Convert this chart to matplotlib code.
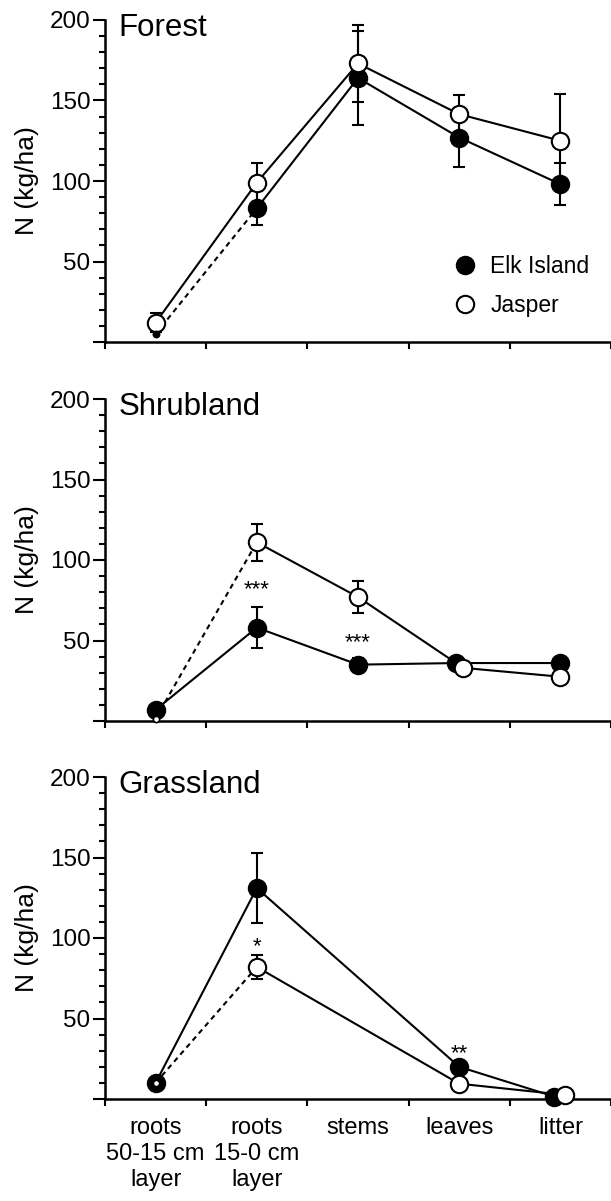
import matplotlib
matplotlib.use('Agg')
import matplotlib.pyplot as plt
import numpy as np
from matplotlib.ticker import MultipleLocator, FixedLocator, FuncFormatter, NullFormatter
from matplotlib.lines import Line2D

plt.rcParams['font.family'] = ['Liberation Sans', 'DejaVu Sans']

# ---------------- data ----------------
categories = ['roots\n50-15 cm\nlayer', 'roots\n15-0 cm\nlayer', 'stems', 'leaves', 'litter']
panel_names = ['Forest', 'Shrubland', 'Grassland']
series_names = ['Elk Island', 'Jasper']

forest_elk = [5, 83, 164, 127, 98]
forest_elk_err = [0, 10.5, 29, 18, 13]
forest_jasper = [12, 99, 173, 141.5, 125]
forest_jasper_err = [6, 12, 24, 12, 29]

shrub_elk = [7, 58, 35, 36, 36]
shrub_elk_err = [0, 12.5, 4, 0, 0]
shrub_jasper = [1.5, 111, 77, 33, 27.5]
shrub_jasper_err = [0, 11.5, 10, 0, 0]

grass_elk = [10, 131, np.nan, 20, 1.5]
grass_elk_err = [0, 21.5, np.nan, 0, 0]
grass_jasper = [10, 82, np.nan, 9.5, 2.5]
grass_jasper_err = [0, 7.5, np.nan, 0, 0]

# which series has its deep-root segment dashed in each panel
dashed_series = ['Elk Island', 'Jasper', 'Jasper']

# significance marks: (category index, y baseline, text)
stars = [
    [],
    [(1, 78, '***'), (2, 45.5, '***')],
    [(1, 91, '*'), (3, 25, '**')],
]

panel_values = [
    {'Elk Island': (forest_elk, forest_elk_err), 'Jasper': (forest_jasper, forest_jasper_err)},
    {'Elk Island': (shrub_elk, shrub_elk_err), 'Jasper': (shrub_jasper, shrub_jasper_err)},
    {'Elk Island': (grass_elk, grass_elk_err), 'Jasper': (grass_jasper, grass_jasper_err)},
]

# small horizontal nudges of overlapping symbols (panel, series, category) -> offset
nudges = {
    (1, 'Elk Island', 3): -0.03, (1, 'Jasper', 3): 0.04,
    (2, 'Elk Island', 4): -0.06, (2, 'Jasper', 4): 0.05,
}

# ---------------- figure ----------------
W, H = 611, 1201
fig = plt.figure(figsize=(W / 100, H / 100), dpi=100)

left_px, right_px = 105, 611
bottoms_px = [342, 721, 1099]
height_px = 322

LW = 1.5
styles = {
    'Elk Island': dict(mfc='black', mec='black', z=3),
    'Jasper': dict(mfc='white', mec='black', z=4),
}
MS = 12.5
x = np.arange(len(categories))

for i, (name, vals) in enumerate(zip(panel_names, panel_values)):
    b = bottoms_px[i]
    ax = fig.add_axes([left_px / W, (H - b) / H, (right_px - left_px) / W, height_px / H])
    ax.set_xlim(-0.5, len(categories) - 0.5)
    ax.set_ylim(0, 200)

    for s in series_names:
        y, e = vals[s]
        y = np.asarray(y, float)
        e = np.asarray(e, float)
        xs = x.astype(float) + np.array([nudges.get((i, s, k), 0.0) for k in range(len(x))])
        st = styles[s]
        valid = ~np.isnan(y)
        xv, yv, ev = xs[valid], y[valid], e[valid]
        dashed = (dashed_series[i] == s)
        # lines
        if dashed:
            ax.plot(xv[:2], yv[:2], color='black', lw=LW, ls=(0, (2.5, 2)), zorder=2)
            ax.plot(xv[1:], yv[1:], color='black', lw=LW, zorder=2)
        else:
            ax.plot(xv, yv, color='black', lw=LW, zorder=2)
        # error bars
        m = ev > 0
        ax.errorbar(xv[m], yv[m], yerr=ev[m], fmt='none', ecolor='black',
                    elinewidth=LW, capsize=4.5, capthick=LW, zorder=2)
        # markers
        if dashed:
            ax.plot(xv[1:], yv[1:], ls='none', marker='o', ms=MS, mfc=st['mfc'],
                    mec=st['mec'], mew=LW, zorder=st['z'], clip_on=False)
            ax.plot(xv[:1], yv[:1], ls='none', marker='o', ms=4.5, mfc=st['mfc'],
                    mec=st['mec'], mew=1.2, zorder=6, clip_on=False)
        else:
            ax.plot(xv, yv, ls='none', marker='o', ms=MS, mfc=st['mfc'],
                    mec=st['mec'], mew=LW, zorder=st['z'], clip_on=False)

    for (ci, yy, txt) in stars[i]:
        ax.text(x[ci], yy, txt, ha='center', va='baseline', fontsize=16)

    # spines
    for sp in ['top', 'right']:
        ax.spines[sp].set_visible(False)
    for sp in ['left', 'bottom']:
        ax.spines[sp].set_linewidth(1.8)

    # y ticks
    ax.yaxis.set_major_locator(MultipleLocator(50))
    ax.yaxis.set_minor_locator(MultipleLocator(10))
    ax.yaxis.set_major_formatter(FuncFormatter(lambda v, p: '' if v == 0 else f'{v:.0f}'))
    ax.tick_params(axis='y', which='major', direction='out', length=8.5, width=1.5,
                   labelsize=17.5, pad=2)
    ax.tick_params(axis='y', which='minor', direction='out', length=4, width=1.5)

    # x ticks: boundaries as major, category labels as minor
    ax.xaxis.set_major_locator(FixedLocator(np.arange(-0.5, len(categories), 1.0)))
    ax.xaxis.set_major_formatter(NullFormatter())
    ax.xaxis.set_minor_locator(FixedLocator(x))
    ax.tick_params(axis='x', which='major', direction='out', length=5, width=1.5)
    if i == 2:
        ax.set_xticklabels(categories, minor=True)
        ax.tick_params(axis='x', which='minor', length=0, labelsize=17, pad=13)
        for t in ax.get_xticklabels(minor=True):
            t.set_linespacing(1.22)
    else:
        ax.xaxis.set_minor_formatter(NullFormatter())
        ax.tick_params(axis='x', which='minor', length=0)

    ax.text(0.026, 0.95, name, transform=ax.transAxes, fontsize=22.5,
            ha='left', va='baseline')

    fig.text(27 / W, (H - b + height_px / 2) / H, 'N (kg/ha)', rotation=90,
             ha='center', va='center', fontsize=19)

    if i == 0:
        handles = [
            Line2D([], [], ls='none', marker='o', ms=MS, mfc='black', mec='black', mew=LW),
            Line2D([], [], ls='none', marker='o', ms=MS, mfc='white', mec='black', mew=LW),
        ]
        ax.legend(handles, series_names, loc='upper left', bbox_to_anchor=(0.689, 0.271),
                  frameon=False, fontsize=16.5, handlelength=1.0, handletextpad=0.6,
                  labelspacing=0.72, borderpad=0, borderaxespad=0)

fig.savefig('out.png', dpi=100)
